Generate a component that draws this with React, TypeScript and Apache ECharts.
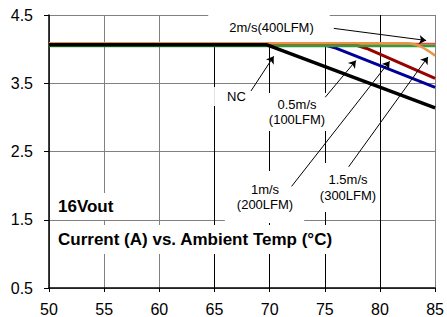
import React, { useEffect, useRef } from 'react';
import * as echarts from 'echarts';

// Axis ticks
const xTicks = [50, 55, 60, 65, 70, 75, 80, 85];
const yTicks = [0.5, 1.5, 2.5, 3.5, 4.5];

// Series: ambient temperature (°C) vs current (A)
const ncTemp = [50, 69.7, 85];
const ncCurrent = [4.065, 4.065, 3.14];

const v05Temp = [50, 75, 76, 85];
const v05Current = [4.065, 4.06, 4.015, 3.44];

const v10Temp = [50, 77.8, 78.8, 85];
const v10Current = [4.065, 4.06, 4.01, 3.57];

const v15Temp = [50, 82.4, 83.1, 83.8, 84.4, 85];
const v15Current = [4.086, 4.086, 4.072, 4.03, 3.972, 3.905];

const v20Temp = [50, 85];
const v20Current = [4.046, 4.046];

const redTemp = [50, 85];
const redCurrent = [4.079, 4.079];

// Annotation arrows (from label to curve), in data coordinates [x1, y1, x2, y2]
const arrows = [
  [75.82, 4.304, 84.19, 4.127],
  [68.31, 3.387, 70.37, 3.895],
  [75.04, 3.295, 77.82, 3.832],
  [71.99, 1.989, 80.88, 3.822],
  [77.16, 2.275, 84.35, 3.886],
];

const FONT = '"Liberation Sans", Arial, sans-serif';

const pairs = (xs: number[], ys: number[]) => xs.map((x, i) => [x, ys[i]]);

export default function App() {
  const ref = useRef<HTMLDivElement>(null);
  useEffect(() => {
    if (!ref.current) return;
    const chart = echarts.init(ref.current, undefined, { renderer: 'svg' });
    const lineSeries = (name: string, xs: number[], ys: number[], color: string, width: number, extra: any = {}) => ({
      name,
      type: 'line',
      data: pairs(xs, ys),
      showSymbol: false,
      symbol: 'none',
      lineStyle: { color, width },
      itemStyle: { color },
      silent: true,
      ...extra,
    });
    const labelBox = (text: string, x: number, y: number, padding: number[], opts: any = {}) => ({
      type: 'text',
      x,
      y,
      z: 1,
      silent: true,
      style: {
        text,
        fill: '#000',
        font: opts.font || `13px ${FONT}`,
        lineHeight: opts.lineHeight || 15.5,
        align: opts.align || 'center',
        verticalAlign: 'middle',
        backgroundColor: '#fff',
        padding,
      },
    });
    chart.setOption({
      animation: false,
      backgroundColor: '#fff',
      grid: { left: 49, top: 15, right: 8, bottom: 26, containLabel: false },
      xAxis: {
        type: 'value',
        min: xTicks[0],
        max: xTicks[xTicks.length - 1],
        interval: 5,
        axisLine: { show: true, onZero: false, lineStyle: { color: '#000', width: 1.5 } },
        axisTick: { show: true, length: 4, lineStyle: { color: '#000' } },
        axisLabel: { color: '#000', fontSize: 16, fontFamily: FONT, margin: 13 },
        splitLine: {
          show: true,
          lineStyle: {
            color: ['#808080', '#808080', '#808080', '#000', '#000', '#000', '#000', '#808080'],
            width: 1,
          },
        },
      },
      yAxis: {
        type: 'value',
        min: yTicks[0],
        max: yTicks[yTicks.length - 1],
        interval: 1,
        axisLine: { show: true, onZero: false, lineStyle: { color: '#000', width: 1.5 } },
        axisTick: { show: true, length: 5, lineStyle: { color: '#000' } },
        axisLabel: {
          color: '#000',
          fontSize: 16,
          fontFamily: FONT,
          margin: 16,
          formatter: (v: number) => v.toFixed(1),
        },
        splitLine: { show: true, lineStyle: { color: '#808080', width: 1 } },
      },
      series: [
        lineSeries('red', redTemp, redCurrent, '#F04A3A', 2),
        lineSeries('0.5m/s(100LFM)', v05Temp, v05Current, '#000099', 3),
        lineSeries('1m/s(200LFM)', v10Temp, v10Current, '#990000', 3),
        lineSeries('2m/s(400LFM)', v20Temp, v20Current, '#2E9E3E', 2.5),
        lineSeries('1.5m/s(300LFM)', v15Temp, v15Current, '#EA9444', 2.5, { smooth: 0.3 }),
        lineSeries('NC', ncTemp, ncCurrent, '#000', 3.5),
        {
          name: 'arrows',
          type: 'line',
          data: [],
          z: 5,
          silent: true,
          markLine: {
            silent: true,
            animation: false,
            symbol: ['none', 'arrow'],
            symbolSize: 7,
            label: { show: false },
            emphasis: { disabled: true },
            lineStyle: { color: '#000', width: 1, type: 'solid' },
            data: arrows.map((a) => [{ coord: [a[0], a[1]] }, { coord: [a[2], a[3]] }]),
          },
        },
      ],
      graphic: [
        labelBox('2m/s(400LFM)', 269, 27, [10, 16, 5, 21], { lineHeight: 15 }),
        labelBox('NC', 236, 96.5, [3.5, 12, 0.5, 13], { lineHeight: 15 }),
        labelBox('0.5m/s\n(100LFM)', 297, 112, [4, 4, 3, 4]),
        labelBox('1m/s\n(200LFM)', 264.5, 197, [6, 11, 15, 12]),
        labelBox('1.5m/s\n(300LFM)', 348, 187.5, [6, 2, 12, 2]),
        labelBox('16Vout', 50, 206.5, [3, 10, 4, 8], { font: `bold 17px ${FONT}`, lineHeight: 20, align: 'left' }),
        labelBox('Current (A) vs. Ambient Temp (°C)', 50, 239.5, [4, 4, 5, 8], {
          font: `bold 17px ${FONT}`,
          lineHeight: 20,
          align: 'left',
        }),
      ],
    });
    return () => chart.dispose();
  }, []);
  return (
    <div
      ref={ref}
      style={{ position: 'fixed', left: 0, top: 0, width: 447, height: 317, background: '#fff' }}
    />
  );
}
